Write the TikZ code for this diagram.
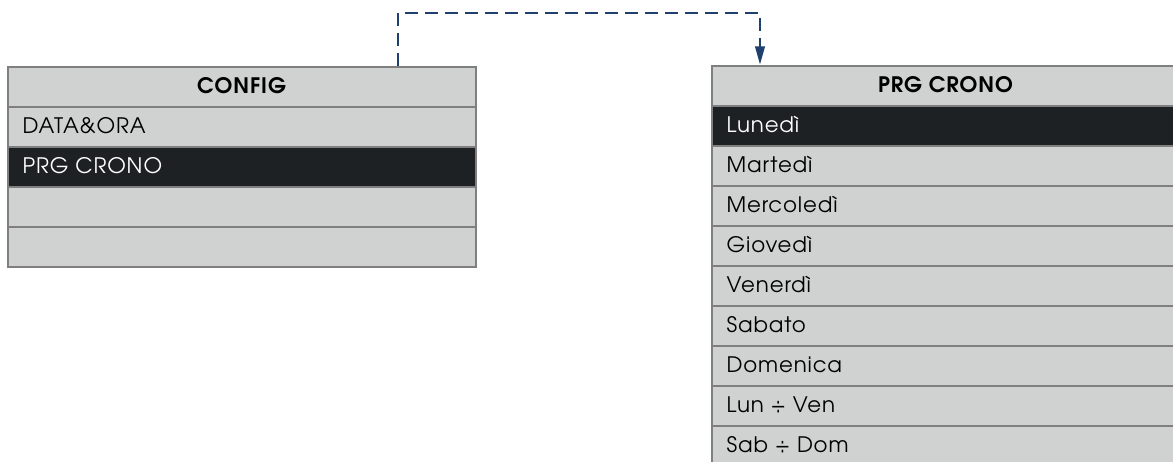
\documentclass[tikz,border=0pt]{standalone}
\usepackage{fontspec}
\setmainfont{texgyreadventor}[Extension=.otf,UprightFont=*-regular,BoldFont=*-bold,LetterSpace=4]
\usetikzlibrary{shapes,arrows.meta,calc}

\definecolor{cellgray}{HTML}{D0D2D1}
\definecolor{celldark}{HTML}{1E2124}
\definecolor{rulegray}{HTML}{7F7F7F}
\definecolor{linkblue}{HTML}{1F3F6E}
\newcommand{\rowstrut}{\rule[-9.5pt]{0pt}{28.5pt}}

\begin{document}
\begin{tikzpicture}[x=0.75pt,y=-0.75pt,every node/.style = {draw=rulegray, line width=1.5pt, shape=rectangle split, rectangle split part align={center,left}, inner xsep=11pt, inner ysep=0pt, minimum width=351pt, anchor=north west, font=\fontsize{16}{19}\selectfont},link/.style={draw=linkblue, line width=2.2pt, dash pattern=on 9.75pt off 5.25pt, -{Triangle[length=14pt,width=7pt]}}]
\useasboundingbox (0,0) rectangle (1173,461);
\node[rectangle split parts=5, rectangle split part fill={cellgray,cellgray,celldark,cellgray}] (config) at (7,66) {\rowstrut\textbf{CONFIG}
\nodepart{two}{\rowstrut DATA\&ORA}
\nodepart{three}{\rowstrut\color{white}PRG CRONO}
\nodepart{four}{\rowstrut}
\nodepart{five}{\rowstrut}};
\node[rectangle split parts=10, rectangle split part fill={cellgray,celldark,cellgray}] (crono) at (711,65) {\rowstrut\textbf{PRG CRONO}
\nodepart{two}{\rowstrut\color{white}Lunedì}
\nodepart{three}{\rowstrut Martedì}
\nodepart{four}{\rowstrut Mercoledì}
\nodepart{five}{\rowstrut Giovedì}
\nodepart{six}{\rowstrut Venerdì}
\nodepart{seven}{\rowstrut Sabato}
\nodepart{eight}{\rowstrut Domenica}
\nodepart{nine}{\rowstrut Lun ÷ Ven}
\nodepart{ten}{\rowstrut Sab ÷ Dom}};
\draw[link] ($(config.north west)+(391,0)$) -- ++(0,-53) -| ($(crono.north west)+(49,0)$);
\end{tikzpicture}
\end{document}
